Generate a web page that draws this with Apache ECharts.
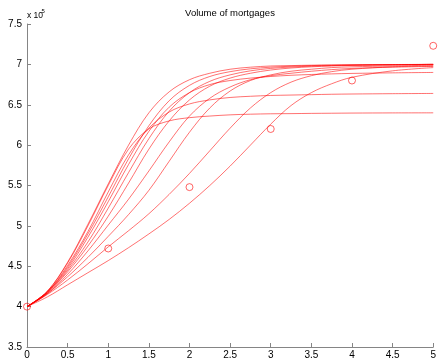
<!DOCTYPE html>
<html>
<head>
<meta charset="utf-8">
<title>Volume of mortgages</title>
<script src="https://cdn.jsdelivr.net/npm/echarts@6/dist/echarts.min.js"></script>
<style>
  html, body { margin: 0; padding: 0; background: #fff; }
  #chart { width: 439px; height: 361px; }
</style>
</head>
<body>
<div id="chart"></div>
<script>
// Time axis (years) shared by every simulated path
var years = [0, 0.25, 0.5, 0.75, 1, 1.25, 1.5, 1.75, 2, 2.25, 2.5, 2.75, 3, 3.25, 3.5, 3.75, 4, 4.5, 5];

// Simulated mortgage volume paths, in units of 10^5
var pathF  = [4.00, 4.19, 4.54, 5.00, 5.50, 5.95, 6.20, 6.30, 6.34, 6.36, 6.375, 6.383, 6.388, 6.39, 6.393, 6.395, 6.397, 6.399, 6.40];
var pathC1 = [4.00, 4.19, 4.55, 5.02, 5.52, 6.00, 6.40, 6.66, 6.81, 6.89, 6.94, 6.965, 6.98, 6.985, 6.99, 6.993, 6.995, 6.998, 7.00];
var pathE  = [4.00, 4.18, 4.51, 4.93, 5.42, 5.88, 6.21, 6.41, 6.51, 6.56, 6.59, 6.605, 6.615, 6.62, 6.625, 6.63, 6.633, 6.637, 6.64];
var pathC2 = [4.00, 4.18, 4.49, 4.90, 5.36, 5.83, 6.24, 6.55, 6.74, 6.85, 6.91, 6.945, 6.965, 6.977, 6.985, 6.99, 6.993, 6.997, 7.00];
var pathD  = [4.00, 4.18, 4.47, 4.86, 5.30, 5.76, 6.17, 6.47, 6.65, 6.75, 6.80, 6.83, 6.85, 6.865, 6.875, 6.882, 6.888, 6.895, 6.90];
var pathC3 = [4.00, 4.17, 4.45, 4.80, 5.22, 5.66, 6.08, 6.42, 6.65, 6.79, 6.87, 6.92, 6.95, 6.967, 6.978, 6.985, 6.99, 6.995, 7.00];
var pathC4 = [4.00, 4.17, 4.43, 4.75, 5.12, 5.53, 5.95, 6.30, 6.56, 6.73, 6.83, 6.89, 6.93, 6.955, 6.97, 6.98, 6.987, 6.994, 7.00];
var pathD2 = [4.00, 4.16, 4.40, 4.69, 5.01, 5.33, 5.68, 6.04, 6.36, 6.58, 6.72, 6.81, 6.86, 6.89, 6.915, 6.935, 6.95, 6.965, 6.975];
var pathC5 = [4.00, 4.16, 4.37, 4.61, 4.87, 5.14, 5.44, 5.80, 6.16, 6.46, 6.67, 6.80, 6.87, 6.915, 6.94, 6.96, 6.97, 6.98, 6.99];
var pathS2 = [4.00, 4.15, 4.33, 4.53, 4.74, 4.94, 5.15, 5.39, 5.65, 5.93, 6.21, 6.46, 6.65, 6.78, 6.86, 6.91, 6.94, 6.97, 6.98];
var pathS1 = [4.00, 4.12, 4.27, 4.42, 4.57, 4.73, 4.90, 5.08, 5.28, 5.50, 5.74, 6.00, 6.26, 6.49, 6.65, 6.76, 6.84, 6.92, 6.96];

// Observed yearly volumes, in units of 10^5
var obsYears = [0, 1, 2, 3, 4, 5];
var obsVolume = [4.00, 4.72, 5.48, 6.20, 6.80, 7.23];

// Axis tick settings
var xTickStep = 0.5;
var yTickStep = 0.5;

var paths = [pathF, pathC1, pathE, pathC2, pathD, pathC3, pathC4, pathD2, pathC5, pathS2, pathS1];

var FONT = '"Liberation Sans", Arial, Helvetica, sans-serif';
var AXIS_GRAY = '#858585';

function zip(xs, ys) {
  return xs.map(function (x, i) { return [x, ys[i]]; });
}

var series = paths.map(function (p) {
  return {
    type: 'line',
    data: zip(years, p),
    showSymbol: false,
    smooth: 0.35,
    silent: true,
    lineStyle: { color: '#ff0000', width: 0.8, opacity: 0.7 },
    z: 2
  };
});

series.push({
  type: 'scatter',
  data: zip(obsYears, obsVolume),
  symbol: 'circle',
  symbolSize: 7,
  silent: true,
  itemStyle: { color: 'rgba(0,0,0,0)', borderColor: '#ff0000', borderWidth: 1, opacity: 0.6 },
  z: 3
});

function axisCommon() {
  return {
    type: 'value',
    axisLine: { show: true, lineStyle: { color: AXIS_GRAY, width: 1 } },
    axisTick: { show: true, inside: true, length: 4, lineStyle: { color: AXIS_GRAY, width: 1 } },
    splitLine: { show: false },
    axisLabel: {
      color: '#000',
      fontSize: 10,
      fontFamily: FONT,
      formatter: function (v) { return String(+v.toFixed(2)); }
    }
  };
}

var xAxis = axisCommon();
xAxis.min = 0; xAxis.max = 5; xAxis.interval = xTickStep;
xAxis.axisLabel.margin = 3;
xAxis.axisLabel.showMaxLabel = true;

var yAxis = axisCommon();
yAxis.min = 3.5; yAxis.max = 7.5; yAxis.interval = yTickStep;
yAxis.axisLabel.margin = 5;

var chart = echarts.init(document.getElementById('chart'), null, { renderer: 'canvas' });
chart.setOption({
  animation: false,
  backgroundColor: '#fff',
  grid: { left: 27, right: 1.3, top: 24, bottom: 14, containLabel: false },
  xAxis: xAxis,
  yAxis: yAxis,
  series: series,
  graphic: [
    {
      type: 'text', x: 230, y: 13, silent: true,
      style: { text: 'Volume of mortgages', fill: '#000', font: '9.5px ' + FONT,
               textAlign: 'center', textVerticalAlign: 'middle', align: 'center', verticalAlign: 'middle' }
    },
    {
      type: 'text', x: 27, y: 15.5, silent: true,
      style: { text: 'x 10', fill: '#000', font: '8.5px ' + FONT,
               textAlign: 'left', textVerticalAlign: 'middle', align: 'left', verticalAlign: 'middle' }
    },
    {
      type: 'text', x: 41.5, y: 11.5, silent: true,
      style: { text: '5', fill: '#000', font: '6px ' + FONT,
               textAlign: 'left', textVerticalAlign: 'middle', align: 'left', verticalAlign: 'middle' }
    }
  ]
});
</script>
</body>
</html>
